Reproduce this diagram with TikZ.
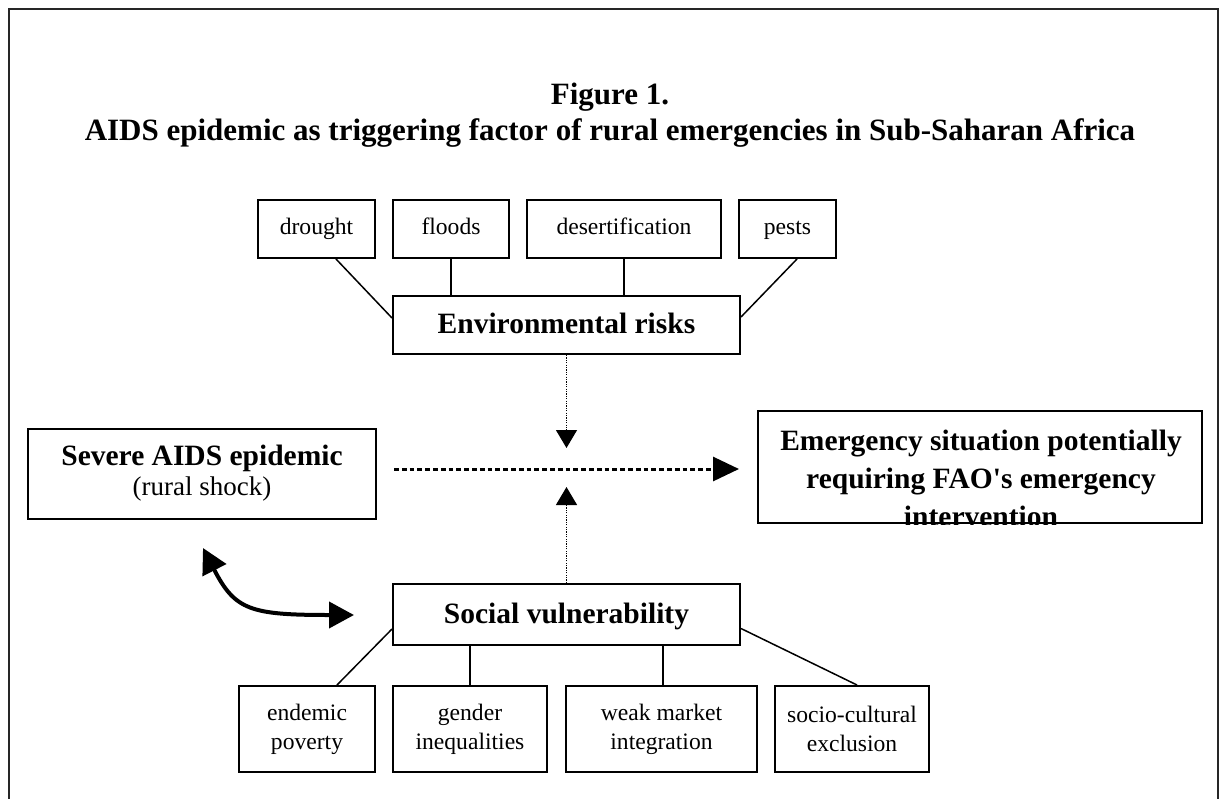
\documentclass[tikz,border=0pt]{standalone}
\usepackage{fontspec}
\setmainfont{Liberation Serif}[Ligatures=TeXOff]
\usetikzlibrary{arrows.meta,calc}
\begin{document}
\begin{tikzpicture}[x=0.5pt,y=-0.5pt,
  frame/.style={line width=1pt,draw=black!85},
  smallbox/.style={draw,line width=1pt,inner sep=0pt,font=\fontsize{11.8}{14.5}\selectfont,align=center},
  oneline/.style={text height=8.3pt,text depth=2.9pt},
  bigbox/.style={draw,line width=1pt,inner sep=0pt,font=\bfseries\fontsize{14.75}{18}\selectfont,text height=10pt,text depth=1.5pt},
  emptybox/.style={draw,line width=1pt,inner sep=0pt},
  boldtext/.style={font=\bfseries\fontsize{14.75}{18}\selectfont,anchor=base,inner sep=0pt},
  plaintext/.style={font=\fontsize{13.5}{16}\selectfont,anchor=base,inner sep=0pt},
  titletext/.style={font=\bfseries\fontsize{15.5}{18}\selectfont,anchor=base,inner sep=0pt},
  link/.style={line width=0.75pt},
  thindots/.style={line width=0.6pt,dash pattern=on 0.6pt off 0.6pt,-{Triangle[length=9pt,width=10.5pt]}},
  thickdots/.style={line width=1.5pt,dash pattern=on 2.4pt off 1.5pt,-{Triangle[length=13pt,width=12pt]}},
  twoway/.style={line width=2pt,{Triangle[length=12.5pt,width=13pt]}-{Triangle[length=12.5pt,width=13pt]}}
]
\clip (0,0) rectangle (1221,798);
\fill[white] (0,0) rectangle (1221,798);
\draw[frame] (9,812) -- (9,9) -- (1218,9) -- (1218,812);

% title
\node[titletext] (t1) at (610,104) {Figure 1.};
\node[titletext] (t2) at (610,140) {AIDS epidemic as triggering factor of rural emergencies in Sub-Saharan Africa};

% environmental risks
\node[smallbox,oneline,minimum width=58.5pt,minimum height=29pt] (drought) at (316.5,229) {drought};
\node[smallbox,oneline,minimum width=58pt,minimum height=29pt] (floods) at (451,229) {floods};
\node[smallbox,oneline,minimum width=97pt,minimum height=29pt] (desert) at (624,229) {desertification};
\node[smallbox,oneline,minimum width=48.5pt,minimum height=29pt] (pests) at (787.5,229) {pests};
\node[bigbox,minimum width=173.5pt,minimum height=29pt] (env) at (566.5,325) {Environmental risks};

\draw[link] ($(drought.south)+(19.5,0)$) -- ($(env.west)+(0,-7)$);
\draw[link] (floods.south) -- (floods.south |- env.north);
\draw[link] (desert.south) -- (desert.south |- env.north);
\draw[link] ($(pests.south)+(9.5,0)$) -- ($(env.east)+(0,-8)$);

% severe AIDS epidemic
\node[emptybox,minimum width=174pt,minimum height=45pt] (severe) at (202,474) {};
\node[boldtext] (severeA) at (202,465) {Severe AIDS epidemic};
\node[plaintext] (severeB) at (202,495) {(rural shock)};

% emergency box
\node[emptybox,minimum width=222pt,minimum height=56pt] (emerg) at (980,467) {};
\begin{scope}
\clip (emerg.south west) rectangle (emerg.north east);
\node[boldtext] (em1) at (981,450) {Emergency situation potentially};
\node[boldtext] (em2) at (981,488) {requiring FAO's emergency};
\node[boldtext] (em3) at (981,526) {intervention};
\end{scope}

% social vulnerability
\node[bigbox,minimum width=173.5pt,minimum height=30.5pt] (social) at (566.5,614.5) {Social vulnerability};
\node[smallbox,minimum width=68pt,minimum height=43pt] (endemic) at (307,729) {endemic\\poverty};
\node[smallbox,minimum width=77pt,minimum height=43pt] (gender) at (470,729) {gender\\inequalities};
\node[smallbox,minimum width=95.5pt,minimum height=43pt] (weak) at (661.5,729) {weak market\\integration};
\node[smallbox,minimum width=77pt,minimum height=43pt] (socio) at (852,729) {socio-cultural\\exclusion};

\draw[link] ($(endemic.north)+(30,0)$) -- ($(social.west)+(0,14.5)$);
\draw[link] (gender.north) -- (gender.north |- social.south);
\draw[link] ($(weak.north)+(1.5,0)$) -- ($(weak.north |- social.south)+(1.5,0)$);
\draw[link] ($(socio.north)+(5,0)$) -- ($(social.east)+(0,14)$);

% arrows
\coordinate (dn) at (566.5,448);
\coordinate (up) at (566.5,487);
\coordinate (hs) at (394,469);
\coordinate (he) at (739,469);
\draw[thindots] (env.south) -- (dn);
\draw[thindots] (social.north) -- (up);
\draw[thickdots] (hs) -- (he);

\coordinate (c1) at (203,548);
\coordinate (c2) at (354,615);
\draw[twoway] (c1) .. controls (235,610) and (250,615) .. (c2);
\end{tikzpicture}
\end{document}
